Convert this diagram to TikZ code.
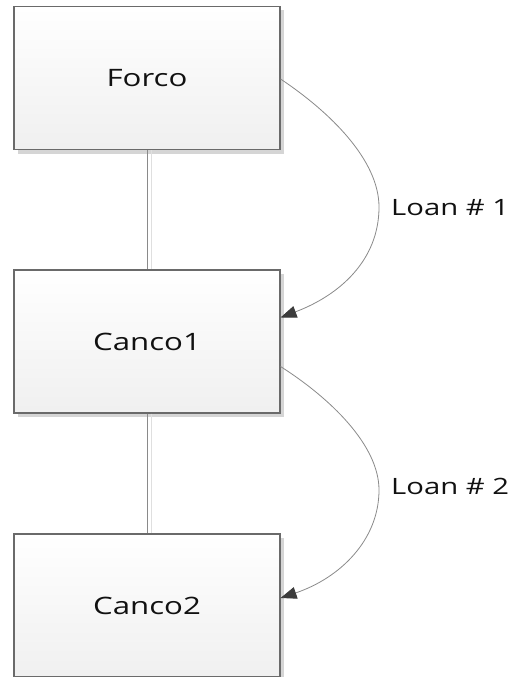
\documentclass[tikz,border=0pt]{standalone}
\usepackage{fontspec}
\setmainfont{Open Sans}[FakeStretch=1.3]
\usetikzlibrary{shadows,arrows.meta}
\definecolor{boxline}{HTML}{6A6A6A}
\definecolor{txt}{HTML}{111111}
\definecolor{conn}{HTML}{8A8A8A}
\definecolor{tipc}{HTML}{3C3C3C}
\tikzset{
  entity/.style={draw=boxline, line width=1.1pt, minimum width=266pt, minimum height=143pt,
    inner sep=0pt, top color=white, bottom color=gray!12, text=txt, font=\fontsize{24}{28}\selectfont,
    drop shadow={shadow xshift=4pt, shadow yshift=-4pt, fill=gray!55, opacity=0.6}},
  link/.style={draw=conn, line width=0.8pt},
  loan/.style={draw=conn, line width=0.8pt, -{Triangle[length=16pt, width=12pt, fill=tipc, color=tipc]}},
  loanlbl/.style={anchor=west, text=txt, font=\fontsize{22.5}{26}\selectfont, inner sep=0pt}
}
\begin{document}
\begin{tikzpicture}[x=1pt,y=-1pt]
\useasboundingbox[fill=white] (0,0) rectangle (518,677);
\node[entity] (forco)  at (147,78)  {Forco};
\node[entity] (canco1) at (147,341.5) {Canco1};
\node[entity] (canco2) at (147,605.5) {Canco2};
\draw[draw=gray!25, line width=0.8pt] ([xshift=4pt]forco.south) -- ([xshift=4pt]canco1.north);
\draw[draw=gray!25, line width=0.8pt] ([xshift=4pt]canco1.south) -- ([xshift=4pt]canco2.north);
\draw[link] (forco.south) -- (canco1.north);
\draw[link] (canco1.south) -- (canco2.north);
\coordinate (m1) at (379,207);
\coordinate (m2) at (379,490);
\draw[loan] ([yshift=-1pt]forco.east) .. controls (330,112) and (379,160) .. (m1)
  .. controls (379,260) and (340,295) .. ([yshift=24pt]canco1.east);
\draw[loan] ([yshift=-25pt]canco1.east) .. controls (330,398) and (379,445) .. (m2)
  .. controls (379,540) and (340,578) .. ([yshift=7.5pt]canco2.east);
\node[loanlbl] (l1) at (391,208) {Loan \# 1};
\node[loanlbl] (l2) at (391,486) {Loan \# 2};
\end{tikzpicture}
\end{document}
